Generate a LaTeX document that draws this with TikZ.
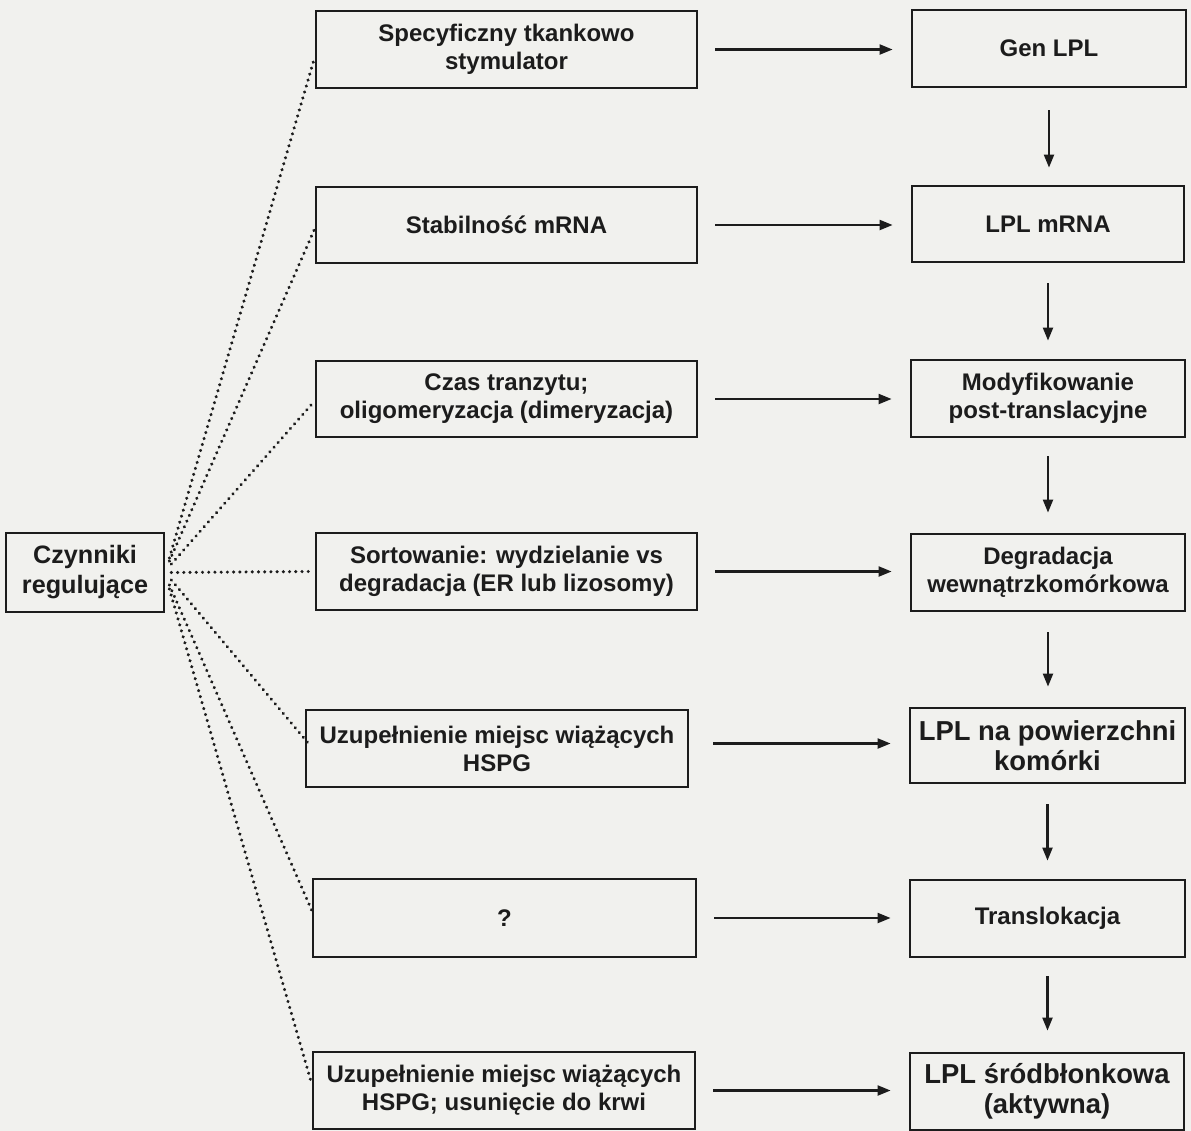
\documentclass[tikz,border=0pt]{standalone}
\usepackage{fontspec}
\setmainfont{Liberation Sans}
\usetikzlibrary{arrows.meta}
\definecolor{bg}{RGB}{241,241,238}
\definecolor{ink}{RGB}{28,28,28}
\begin{document}
\begin{tikzpicture}[x=0.5pt,y=-0.5pt,
  box/.style={draw=ink, line width=1.4pt, rectangle, align=center, inner sep=0pt,
    text=ink, font=\bfseries\fontsize{12}{14}\selectfont},
  bigtxt/.style={font=\bfseries\fontsize{13.7}{15}\selectfont},
  arr/.style={draw=ink, line width=1.05pt, -{Triangle[length=6.5pt,width=5pt]}},
  dots/.style={draw=ink, line width=1.7pt, line cap=round, dash pattern=on 0.01pt off 3.1pt}]
\useasboundingbox (0,0) rectangle (1191,1131);
\fill[bg] (0,0) rectangle (1191,1131);

% left node
\node[box, minimum width=79pt, minimum height=39.5pt, font=\bfseries\fontsize{12.6}{15}\selectfont] (czyn) at (85,572.5) {Czynniki\\regulujące};

% middle column
\node[box, minimum width=190.5pt, minimum height=38.5pt] (m1) at (506.5,49.5) {Specyficzny tkankowo\\stymulator};
\node[box, minimum width=190.5pt, minimum height=38pt] (m2) at (506.5,225) {Stabilność mRNA};
\node[box, minimum width=190.5pt, minimum height=38pt] (m3) at (506.5,399) {Czas tranzytu;\\oligomeryzacja (dimeryzacja)};
\node[box, minimum width=190.5pt, minimum height=38.5pt] (m4) at (506.5,571.5) {Sortowanie: wydzielanie vs\\degradacja (ER lub lizosomy)};
\node[box, minimum width=191pt, minimum height=38.5pt] (m5) at (497,748.5) {Uzupełnienie miejsc wiążących\\HSPG};
\node[box, minimum width=191.5pt, minimum height=39pt] (m6) at (504.5,918) {?};
\node[box, minimum width=191pt, minimum height=38.5pt] (m7) at (504,1090.5) {Uzupełnienie miejsc wiążących\\HSPG; usunięcie do krwi};

% right column
\node[box, minimum width=137pt, minimum height=38.5pt] (r1) at (1049,48.5) {Gen LPL};
\node[box, minimum width=136pt, minimum height=38pt] (r2) at (1048,224) {LPL mRNA};
\node[box, minimum width=137pt, minimum height=38.5pt] (r3) at (1048,398.5) {Modyfikowanie\\post-translacyjne};
\node[box, minimum width=137pt, minimum height=38.5pt] (r4) at (1048,572.5) {Degradacja\\wewnątrzkomórkowa};
\node[box, bigtxt, minimum width=137.5pt, minimum height=37.5pt] (r5) at (1047.5,745.5) {LPL na powierzchni\\komórki};
\node[box, minimum width=137.5pt, minimum height=38.5pt] (r6) at (1047.5,918.5) {Translokacja};
\node[box, bigtxt, minimum width=137pt, minimum height=38.5pt] (r7) at (1047,1091.5) {LPL śródbłonkowa\\(aktywna)};

% horizontal arrows
\draw[arr, shorten <=8.5pt, shorten >=9pt] (m1.east) -- (m1.east -| r1.west);
\draw[arr, shorten <=8.5pt, shorten >=9pt] (m2.east) -- (m2.east -| r2.west);
\draw[arr, shorten <=8.5pt, shorten >=9pt] (m3.east) -- (m3.east -| r3.west);
\draw[arr, shorten <=8.5pt, shorten >=9pt] (m4.east) -- (m4.east -| r4.west);
\draw[arr, shorten <=12pt, shorten >=9pt] ([shift={(0,-5)}]m5.east) -- ([shift={(0,-5)}]m5.east -| r5.west);
\draw[arr, shorten <=8.5pt, shorten >=9pt] (m6.east) -- (m6.east -| r6.west);
\draw[arr, shorten <=8.5pt, shorten >=9pt] (m7.east) -- (m7.east -| r7.west);

% vertical arrows
\draw[arr, shorten <=11pt, shorten >=8.5pt] (r1.south) -- (r1.south |- r2.north);
\draw[arr, shorten <=10pt, shorten >=9pt] (r2.south) -- (r2.south |- r3.north);
\draw[arr, shorten <=9pt, shorten >=10pt] (r3.south) -- (r3.south |- r4.north);
\draw[arr, shorten <=10pt, shorten >=10pt] (r4.south) -- (r4.south |- r5.north);
\draw[arr, shorten <=10pt, shorten >=9pt] (r5.south) -- (r5.south |- r6.north);
\draw[arr, shorten <=9pt, shorten >=10.5pt] (r6.south) -- (r6.south |- r7.north);

% dotted connectors
\draw[dots] ([shift={(4,-14.5)}]czyn.east) -- ([shift={(0,8)}]m1.west);
\draw[dots] ([shift={(4,-11.5)}]czyn.east) -- ([shift={(0,4)}]m2.west);
\draw[dots] ([shift={(6,-8.5)}]czyn.east) -- ([shift={(0,2)}]m3.west);
\draw[dots] ([shift={(6,0)}]czyn.east) -- ([shift={(-5,0)}]m4.west);
\draw[dots] ([shift={(6,7.5)}]czyn.east) -- ([shift={(3,-6)}]m5.west);
\draw[dots] ([shift={(4,12.5)}]czyn.east) -- ([shift={(0,-8)}]m6.west);
\draw[dots] ([shift={(4,16.5)}]czyn.east) -- ([shift={(0,-7)}]m7.west);
\end{tikzpicture}
\end{document}
